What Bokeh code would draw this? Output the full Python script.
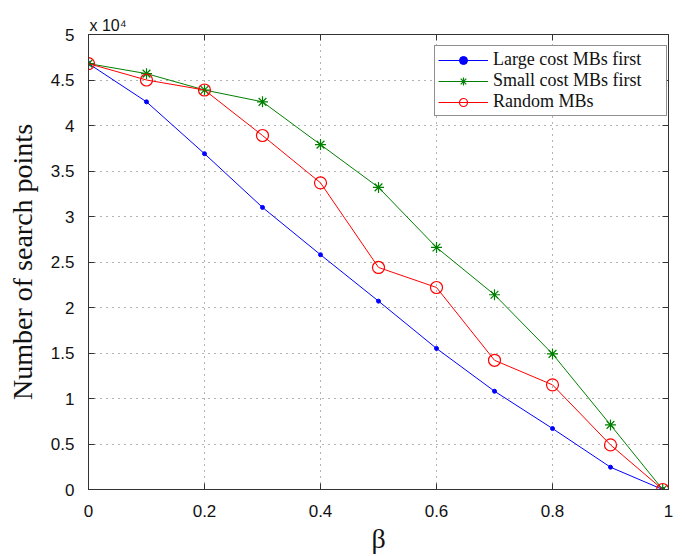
from bokeh.plotting import figure
from bokeh.models import Range1d, FixedTicker, LinearAxis, Legend, LegendItem
from bokeh.embed import file_html
from bokeh.resources import INLINE

# Data (y values in units of 10^4 search points)
beta = [0, 0.1, 0.2, 0.3, 0.4, 0.5, 0.6, 0.7, 0.8, 0.9, 0.99]
large_cost_first = [4.68, 4.26, 3.69, 3.10, 2.58, 2.07, 1.55, 1.08, 0.67, 0.245, 0.0]
small_cost_first = [4.68, 4.57, 4.39, 4.26, 3.79, 3.32, 2.66, 2.14, 1.49, 0.71, 0.0]
random_mbs = [4.68, 4.50, 4.39, 3.89, 3.37, 2.44, 2.22, 1.42, 1.15, 0.49, 0.0]

x_ticks = [0, 0.2, 0.4, 0.6, 0.8, 1]
x_tick_labels = ["0", "0.2", "0.4", "0.6", "0.8", "1"]
y_ticks = [0, 0.5, 1, 1.5, 2, 2.5, 3, 3.5, 4, 4.5, 5]
y_tick_labels = ["0", "0.5", "1", "1.5", "2", "2.5", "3", "3.5", "4", "4.5", "5"]

series_names = ["Large cost MBs first", "Small cost MBs first", "Random MBs"]
scale_text = "x 10\u2074"

p = figure(width=685, height=556, output_backend="svg", toolbar_location=None,
           x_range=Range1d(0, 1), y_range=Range1d(0, 5),
           min_border_left=88, min_border_right=17, min_border_top=34, min_border_bottom=67)
p.background_fill_color = "white"
p.border_fill_color = "white"
p.outline_line_color = "#333333"
p.outline_line_width = 1

axis_color = "#333333"
tick_font = "Liberation Sans"
for ax, ticks, labels in ((p.xaxis[0], x_ticks, x_tick_labels), (p.yaxis[0], y_ticks, y_tick_labels)):
    ax.ticker = FixedTicker(ticks=ticks)
    ax.major_label_overrides = {t: l for t, l in zip(ticks, labels)}
    ax.major_tick_in = 6
    ax.major_tick_out = 0
    ax.minor_tick_line_color = None
    ax.axis_line_color = axis_color
    ax.major_tick_line_color = axis_color
    ax.major_label_text_font = tick_font
    ax.major_label_text_font_size = "17px"
    ax.major_label_text_color = "#111111"
    ax.axis_label_text_font = "Liberation Serif"
    ax.axis_label_text_font_size = "28px"
    ax.axis_label_text_font_style = "normal"
    ax.axis_label_text_color = "#111111"

p.xaxis.axis_label = "β"
p.yaxis.axis_label = "Number of search points"
p.yaxis.major_label_standoff = 14
p.xaxis.major_label_standoff = 15
p.yaxis.axis_label_standoff = 10
p.xaxis.axis_label_standoff = 3

# tick-only axes on top and right (MATLAB box style); their labels are not drawn
for side, ticks in (("above", x_ticks), ("right", y_ticks)):
    ax = LinearAxis(ticker=FixedTicker(ticks=ticks), major_label_text_font_size="1px",
                    major_label_text_alpha=0, major_label_standoff=0, axis_line_color=None,
                    major_tick_in=6, major_tick_out=0, minor_tick_line_color=None,
                    major_tick_line_color=axis_color)
    p.add_layout(ax, side)

for g in (p.xgrid[0], p.ygrid[0]):
    g.grid_line_color = "#666666"
    g.grid_line_dash = "1 5"
    g.grid_line_width = 1
p.xgrid.ticker = FixedTicker(ticks=x_ticks)
p.ygrid.ticker = FixedTicker(ticks=y_ticks)

blue, green, red = "#0000FF", "#008000", "#FF0000"
l1 = p.line(beta, large_cost_first, line_color=blue, line_width=1)
s1 = p.scatter(beta, large_cost_first, marker="circle", size=4, fill_color=blue, line_color=blue)
l2 = p.line(beta, small_cost_first, line_color=green, line_width=1)
s2 = p.scatter(beta, small_cost_first, marker="asterisk", size=11, line_color=green, line_width=1.2)
l3 = p.line(beta, random_mbs, line_color=red, line_width=1)
s3 = p.scatter(beta, random_mbs, marker="circle", size=12, fill_color=None, line_color=red, line_width=1.2)

legend = Legend(items=[LegendItem(label=series_names[0], renderers=[l1, s1]),
                       LegendItem(label=series_names[1], renderers=[l2, s2]),
                       LegendItem(label=series_names[2], renderers=[l3, s3])],
                location=(346, 373))
legend.border_line_color = "#222222"
legend.border_line_width = 1
legend.background_fill_color = "white"
legend.background_fill_alpha = 1
legend.label_text_font = "Liberation Serif"
legend.label_text_font_size = "18px"
legend.label_text_color = "#111111"
legend.glyph_width = 50
legend.glyph_height = 20
legend.label_height = 20
legend.label_width = 170
legend.label_standoff = 5
legend.spacing = 0
legend.padding = 3
legend.margin = 0
p.add_layout(legend)

p.title.text = scale_text
p.title.align = "left"
p.title.offset = 1
p.title.standoff = 2
p.title.text_font = "Liberation Sans"
p.title.text_font_size = "16px"
p.title.text_font_style = "normal"
p.title.text_color = "#111111"

open("out.html", "w").write(file_html(p, INLINE))
